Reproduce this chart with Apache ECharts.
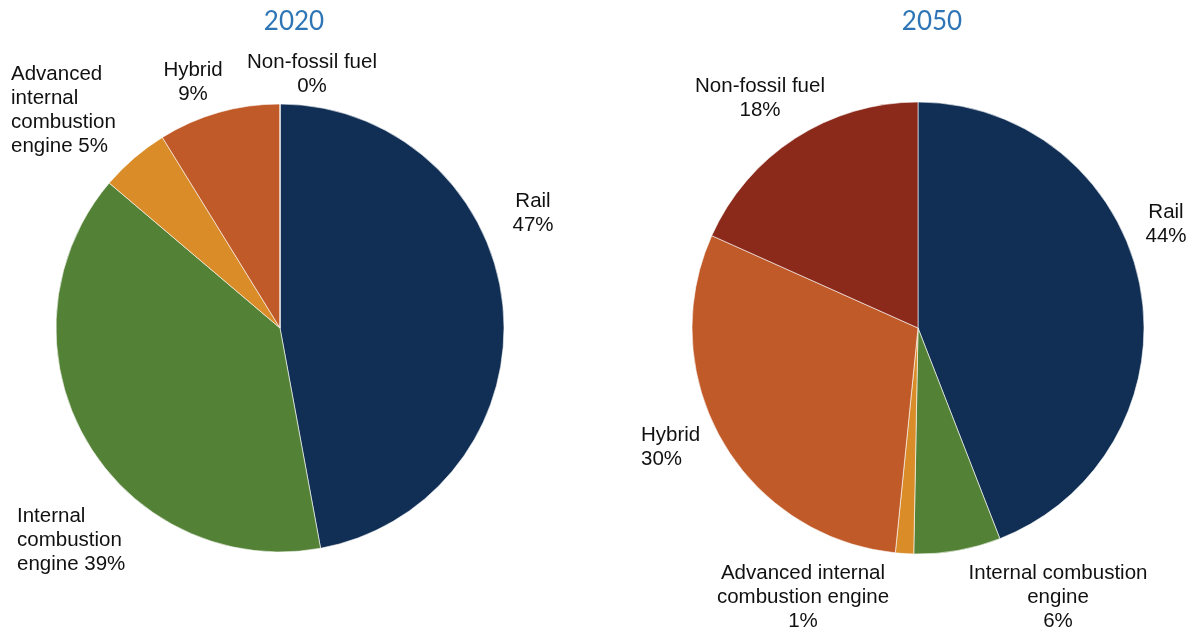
<!DOCTYPE html>
<html>
<head>
<meta charset="utf-8">
<script src="https://cdn.jsdelivr.net/npm/echarts@6/dist/echarts.min.js"></script>
<style>
html,body{margin:0;padding:0;background:#fff;}
#chart{width:1192px;height:632px;}
</style>
</head>
<body>
<div id="chart"></div>
<script>
// ---- data ----
var categories = ["Rail", "Internal combustion engine", "Advanced internal combustion engine", "Hybrid", "Non-fossil fuel"];
var values2020 = [47.1, 39.1, 5.0, 8.8, 0.0];
var values2050 = [44.1, 6.2, 1.3, 30.1, 18.3];
var labels2020 = ["Rail", "Internal\ncombustion\nengine", "Advanced\ninternal\ncombustion\nengine", "Hybrid", "Non-fossil fuel"];
var labels2050 = ["Rail", "Internal combustion\nengine", "Advanced internal\ncombustion engine", "Hybrid", "Non-fossil fuel"];
// whether percentage goes on the same last line (true) or a new line (false)
var sameLine2020 = [false, true, true, false, false];
var sameLine2050 = [false, false, false, false, false];
var titles = ["2020", "2050"];
var colors = ["#112f54", "#538135", "#d98c27", "#c05a28", "#8b2a1b"];

// label placement (text layout only)
var pos2020 = [
  {x: 533, y: 213, align: "center"},
  {x: 17, y: 540, align: "left"},
  {x: 11, y: 110, align: "left"},
  {x: 193, y: 82, align: "center"},
  {x: 312, y: 74, align: "center"}
];
var pos2050 = [
  {x: 1166, y: 224, align: "center"},
  {x: 1058, y: 597, align: "center"},
  {x: 803, y: 597, align: "center"},
  {x: 641, y: 447, align: "left"},
  {x: 760, y: 98, align: "center"}
];

function buildData(vals, labels, same) {
  var total = vals.reduce(function (a, b) { return a + b; }, 0);
  return vals.map(function (v, i) {
    var pct = Math.round(v / total * 100) + "%";
    return {
      name: categories[i],
      value: v,
      itemStyle: {color: colors[i]},
      label: {formatter: labels[i] + (same[i] ? " " : "\n") + pct}
    };
  });
}

function makeSeries(vals, labels, same, center, radius, pos) {
  return {
    type: "pie",
    center: center,
    radius: radius,
    startAngle: 90,
    clockwise: true,
    animation: false,
    silent: true,
    minShowLabelAngle: -1,
    itemStyle: {borderColor: "#ffffff", borderWidth: 0.6},
    label: {
      show: true,
      position: "outside",
      alignTo: "none",
      overflow: "none",
      color: "#111",
      fontFamily: "Liberation Sans, Arial, sans-serif",
      fontSize: 20.5,
      lineHeight: 24
    },
    labelLine: {show: false},
    labelLayout: function (p) {
      var q = pos[p.dataIndex];
      return {x: q.x, y: q.y, align: q.align, verticalAlign: "middle"};
    },
    data: buildData(vals, labels, same)
  };
}

var chart = echarts.init(document.getElementById("chart"), null, {renderer: "canvas"});
chart.setOption({
  backgroundColor: "#fff",
  title: [
    {text: titles[0], left: 289, top: 4, textAlign: "center",
     textStyle: {color: "#2e75b6", fontFamily: "Lato, sans-serif", fontWeight: "normal", fontSize: 26}},
    {text: titles[1], left: 927, top: 4, textAlign: "center",
     textStyle: {color: "#2e75b6", fontFamily: "Lato, sans-serif", fontWeight: "normal", fontSize: 26}}
  ],
  series: [
    makeSeries(values2020, labels2020, sameLine2020, [280, 328], 224, pos2020),
    makeSeries(values2050, labels2050, sameLine2050, [918, 328], 226, pos2050)
  ]
});
</script>
</body>
</html>
